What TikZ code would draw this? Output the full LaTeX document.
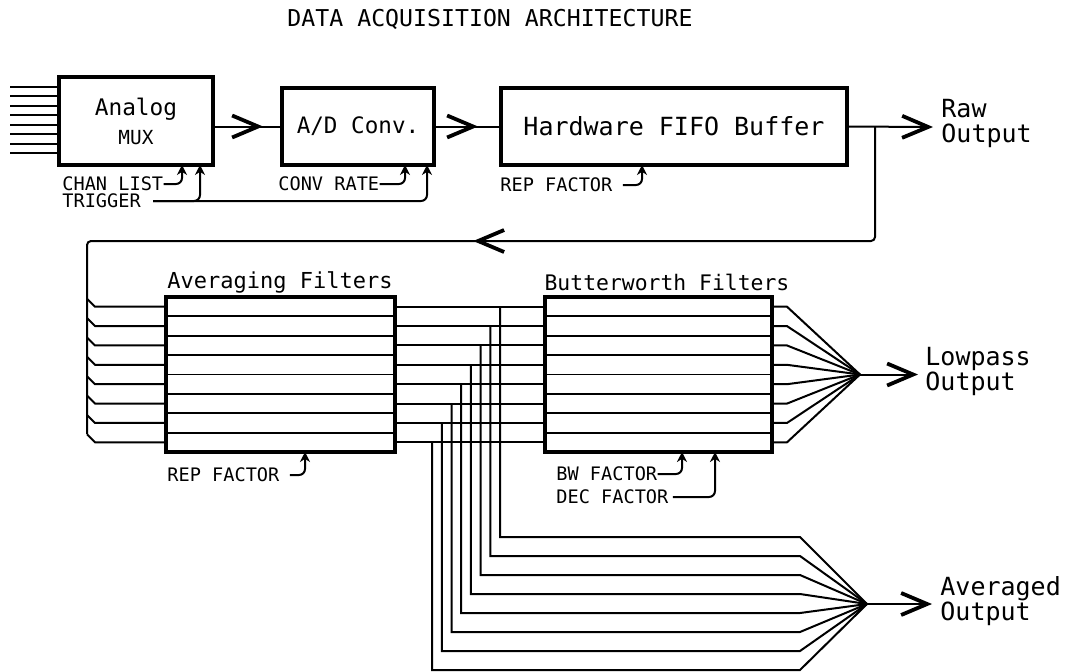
\documentclass[tikz,border=0pt]{standalone}
\usepackage{fontspec}
\newfontfamily\plotfont{DejaVu Sans Mono}
\usetikzlibrary{arrows.meta,decorations.markings}

\tikzset{
  >={Straight Barb[length=13pt,width=11pt,line width=1.9pt]},
  box/.style={draw,line width=1.8pt,inner sep=0pt,outer sep=0pt},
  wire/.style={line width=1pt},
  row/.style={line width=0.9pt},
  ctrl/.style={line width=1pt,rounded corners=3pt,-{Stealth[length=5pt,width=5pt]}},
  midarrow/.style={postaction={decorate,decoration={markings,mark=at position #1 with {\arrow{>}}}}},
  lbl/.style={font=\plotfont\fontsize{9.3}{10}\selectfont,inner sep=0pt,anchor=west},
  outlbl/.style={font=\plotfont\fontsize{12.5}{12.5}\selectfont,align=left,anchor=west,inner sep=0pt},
}

\begin{document}
\begin{tikzpicture}[x=0.5pt,y=-0.5pt]
  \useasboundingbox (0,0) rectangle (1066,671);

  \node[font=\plotfont\fontsize{11.6}{12}\selectfont] (title) at (490,19) {DATA ACQUISITION ARCHITECTURE};

  % acquisition chain
  \node[box,minimum width=77pt,minimum height=44pt,align=center,font=\plotfont\fontsize{11.4}{14.5}\selectfont] (mux) at (136,121) {Analog\\\fontsize{9.7}{12}\selectfont MUX};
  \node[box,minimum width=76pt,minimum height=38.5pt,font=\plotfont\fontsize{11.3}{12}\selectfont] (adc) at (358,126.5) {A/D Conv.};
  \node[box,minimum width=173pt,minimum height=38.5pt,font=\plotfont\fontsize{12.5}{13}\selectfont] (fifo) at (674,126.5) {Hardware FIFO Buffer};

  \foreach \k in {0,...,7}
    \draw[wire] ([yshift={-(4.85+4.75*\k)*1pt}]mux.north west) -- ++(-49,0);

  \draw[wire,midarrow=25pt] (mux.east |- adc.west) -- (adc.west);
  \draw[wire,midarrow=22pt] (adc) -- (fifo);

  \coordinate (rawj) at (875,127);
  \coordinate (rawtip) at (933,127);
  \draw[wire,->] (fifo.east) -- (rawtip);
  \node[outlbl] (rawout) at (941,123) {Raw\\Output};

  % control inputs
  \node[lbl] (chan) at (62,184) {CHAN LIST};
  \node[lbl] (trig) at (62,201) {TRIGGER};
  \node[lbl] (conv) at (278,184) {CONV RATE};
  \node[lbl] (fiforep) at (500,185) {REP FACTOR};

  \draw[ctrl] (chan.east) -| ([xshift=23pt]mux.south);
  \draw[ctrl,shorten <=6pt] (trig.east) -| ([xshift=32pt]mux.south);
  \draw[ctrl,shorten <=6pt] (trig.east) -| ([xshift=34.5pt]adc.south);
  \draw[ctrl] (conv.east) -| ([xshift=23.5pt]adc.south);
  \draw[ctrl,shorten <=5pt] (fiforep.east) -| ([xshift=-16pt]fifo.south);

  % filter banks
  \node[box,minimum width=114.5pt,minimum height=77.5pt] (avg) at (280.5,374.5) {};
  \node[box,minimum width=113.5pt,minimum height=77.5pt] (bw) at (658.5,374.5) {};
  \node[font=\plotfont\fontsize{11}{12}\selectfont] (avgname) at (280,282) {Averaging Filters};
  \node[font=\plotfont\fontsize{10.7}{12}\selectfont] (bwname) at (667,282) {Butterworth Filters};

  \foreach \f in {avg,bw}
    \foreach \k in {1,...,7}
      \draw[row] ([yshift={-\k*9.6875pt}]\f.north west) -- ([yshift={-\k*9.6875pt}]\f.north east);

  % feedback from the raw stream into the averaging bank
  \coordinate (loopl) at (87,241);
  \draw[wire,rounded corners=2pt,midarrow=257pt] (rawj) |- (loopl) -- (87,434);
  \foreach \k [evaluate=\k as \yc using 297+19.375*(\k-0.5)] in {1,...,8}
    \draw[wire] (87,\yc-8) -- (95,\yc) -- ([yshift={-(\k-0.5)*9.6875pt}]avg.north west);

  \foreach \k in {1,...,8}
    \draw[wire] ([yshift={-(\k-0.5)*9.6875pt}]avg.north east) -- ([yshift={-(\k-0.5)*9.6875pt}]bw.north west);

  % lowpass output
  \coordinate (lpjoin) at (860,374.5);
  \coordinate (lptip) at (918,374.5);
  \foreach \k in {1,...,8}
    \draw[wire] ([yshift={-(\k-0.5)*9.6875pt}]bw.north east) -- ++(15,0) -- (lpjoin);
  \draw[wire,->] (lpjoin) -- (lptip);
  \node[outlbl] (lpout) at (925,371) {Lowpass\\Output};

  % averaged output
  \coordinate (avgjoin) at (867,604);
  \coordinate (avgtip) at (932,604);
  \foreach \k [evaluate=\k as \yc using 297+19.375*(\k-0.5),
               evaluate=\k as \xk using 500-9.7*(\k-1),
               evaluate=\k as \ya using 537+19*(\k-1)] in {1,...,8}
    \draw[wire] (\xk,\yc) |- (800,\ya) -- (avgjoin);
  \draw[wire,->] (avgjoin) -- (avgtip);
  \node[outlbl] (avgout) at (940,601) {Averaged\\Output};

  % filter settings
  \node[lbl] (avgrep) at (167,475) {REP FACTOR};
  \node[lbl] (bwfac) at (556,474) {BW FACTOR};
  \node[lbl] (decfac) at (556,497) {DEC FACTOR};
  \draw[ctrl,shorten <=5pt] (avgrep.east) -| ([xshift=12.25pt]avg.south);
  \draw[ctrl] (bwfac.east) -| ([xshift=11.75pt]bw.south);
  \draw[ctrl,shorten <=2pt] (decfac.east) -| ([xshift=28.25pt]bw.south);
\end{tikzpicture}
\end{document}
